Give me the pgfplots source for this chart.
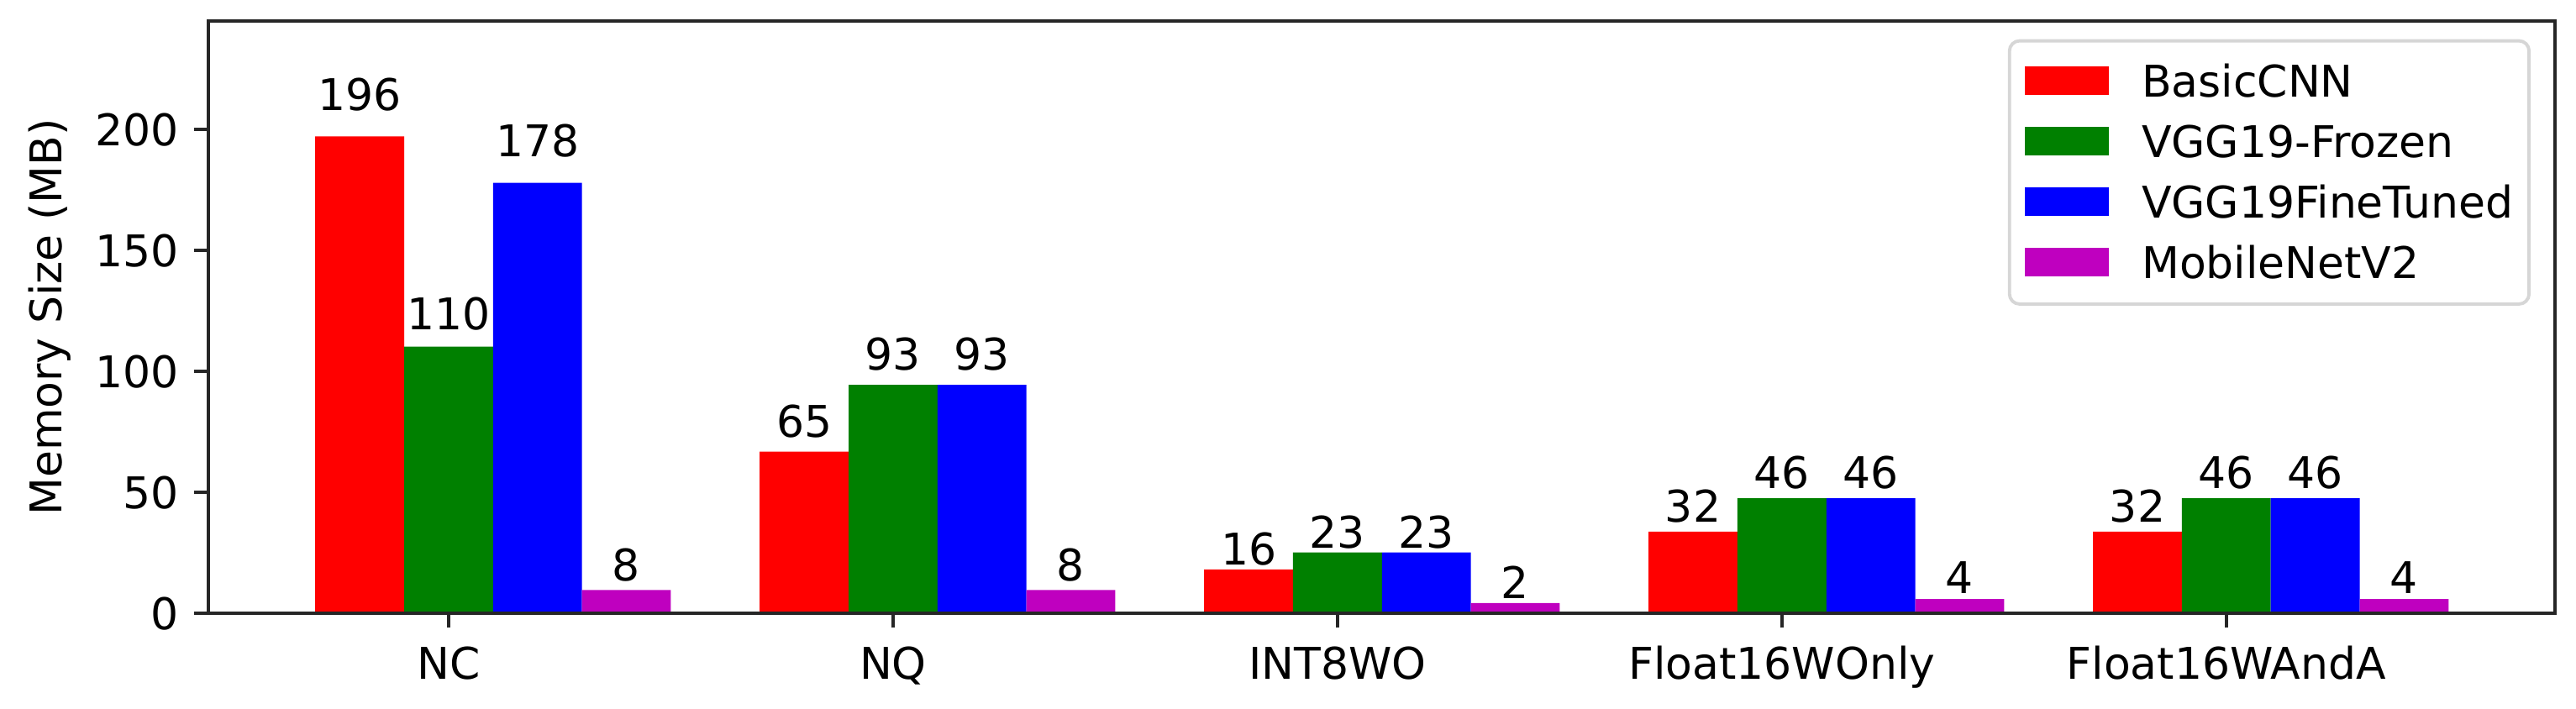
\documentclass[11pt,border=0pt]{standalone}
\usepackage{fontspec}
\setmainfont{DejaVu Sans}
\usepackage{pgfplots}
\pgfplotsset{compat=1.18}
\usepackage{pgfplotstable}
\usetikzlibrary{calc}

\definecolor{cred}{RGB}{255,0,0}
\definecolor{cgreen}{RGB}{0,128,0}
\definecolor{cblue}{RGB}{0,0,255}
\definecolor{cmag}{RGB}{191,0,191}
\definecolor{spine}{RGB}{38,38,38}

% x = category index, y = bar height, lab = printed value, ly = label baseline position
\pgfplotstableread{
x y lab ly
0 197.2 196 208.0
1 66.9 65 72.9
2 18.2 16 20.2
3 33.8 32 37.9
4 33.8 32 37.9
}\basiccnn
\pgfplotstableread{
x y lab ly
0 110.3 110 117.3
1 94.5 93 100.5
2 25.2 23 26.9
3 47.6 46 51.8
4 47.6 46 51.8
}\vggfrozen
\pgfplotstableread{
x y lab ly
0 178.0 178 189.0
1 94.5 93 100.5
2 25.2 23 26.9
3 47.6 46 51.8
4 47.6 46 51.8
}\vggfine
\pgfplotstableread{
x y lab ly
0 9.7 8 13.6
1 9.7 8 13.6
2 4.3 2 6.2
3 6.0 4 8.4
4 6.0 4 8.4
}\mobilenet

\pgfplotsset{
  mybar/.style={
    ybar, bar width=0.2, bar shift=#1, draw=none,
    legend image code/.code={\fill[##1, sharp corners] (0pt,-3.2pt) rectangle (20.6pt,3.8pt);},
  },
  mylab/.style={
    draw=none, mark=none, forget plot,
    point meta=explicit symbolic,
    nodes near coords,
    nodes near coords style={anchor=base, text=black},
  },
}

\begin{document}
\fontsize{10.7pt}{12.8pt}\selectfont
\begin{tikzpicture}
\begin{axis}[
  scale only axis,
  width=574.8pt, height=145.2pt,
  xmin=-0.54, xmax=4.74, ymin=0, ymax=245,
  xtick={0,1,2,3,4},
  xticklabels={NC,NQ,INT8WO,Float16WOnly,Float16WAndA},
  ytick={0,50,100,150,200},
  tick align=outside, tick pos=left,
  major tick length=3.5pt,
  every tick/.style={spine, line width=0.8pt},
  axis line style={spine, line width=0.9pt},
  xticklabel style={yshift=-0.8pt},
  ylabel={Memory Size (MB)},
  every axis y label/.style={at={(axis description cs:-0.0678,0.5)}, rotate=90, anchor=center},
  /pgf/number format/assume math mode=true,
  axis on top,
  legend cell align=left,
  legend style={
    at={(axis description cs:1,1)}, anchor=north east,
    xshift=-6pt, yshift=-4.5pt,
    draw=black!16, line width=0.8pt, rounded corners=2.5pt,
    fill=white,
    inner xsep=3.8pt, inner ysep=6.3pt,
    row sep=7.3pt, column sep=8pt,
    nodes={inner sep=0pt, text height=7.4pt, text depth=0pt},
  },
]
\addplot[mybar=-0.2, fill=cred] table[x=x, y=y] {\basiccnn};
\addlegendentry{BasicCNN}
\addplot[mybar=0, fill=cgreen] table[x=x, y=y] {\vggfrozen};
\addlegendentry{VGG19-Frozen}
\addplot[mybar=0.2, fill=cblue] table[x=x, y=y] {\vggfine};
\addlegendentry{VGG19FineTuned}
\addplot[mybar=0.4, fill=cmag] table[x=x, y=y] {\mobilenet};
\addlegendentry{MobileNetV2}
% value labels above the bars
\addplot[mylab] table[x expr=\thisrow{x}-0.2, y=ly, meta=lab] {\basiccnn};
\addplot[mylab] table[x expr=\thisrow{x}, y=ly, meta=lab] {\vggfrozen};
\addplot[mylab] table[x expr=\thisrow{x}+0.2, y=ly, meta=lab] {\vggfine};
\addplot[mylab] table[x expr=\thisrow{x}+0.4, y=ly, meta=lab] {\mobilenet};
\end{axis}
\path ($(current axis.south west)+(-51.1pt,-23.3pt)$) rectangle ($(current axis.north east)+(5.1pt,5.1pt)$);
\end{tikzpicture}
\end{document}
